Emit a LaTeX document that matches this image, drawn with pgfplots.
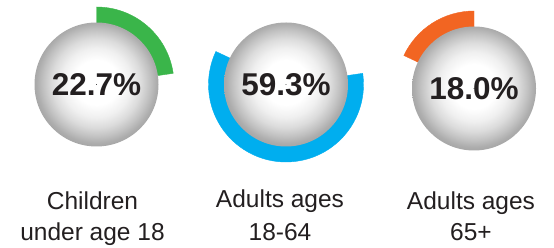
\documentclass[border=0pt]{standalone}
\usepackage{fontspec}
\setmainfont{Liberation Sans}
\usepackage{pgfplots}
\usepackage{pgfplotstable}
\pgfplotsset{compat=1.18}

\definecolor{cgreen}{HTML}{3AB54A}
\definecolor{cblue}{HTML}{00AEEF}
\definecolor{corange}{HTML}{F26522}
\definecolor{ctext}{HTML}{231F20}

\pgfdeclareradialshading{sph}{\pgfpoint{0bp}{1bp}}{%
  color(0bp)=(white);
  color(9bp)=(white);
  color(14bp)=(white!94!black);
  color(18bp)=(white!86!black);
  color(21.5bp)=(white!76!black);
  color(24bp)=(white!68!black);
  color(25bp)=(white!66!black);
  color(50bp)=(white!66!black)}

% x, y: centre of each ring (1 unit = 1pt); start: cumulative share before; pct: share
\pgfplotstableread{
x y start pct
96.5 163.5 0.0 22.7
}\children
\pgfplotstableread{
x y start pct
286 163.5 22.7 59.3
}\adults
\pgfplotstableread{
x y start pct
474 159.5 82.0 18.0
}\seniors

\pgfplotsset{
  donut/.style={
    scatter, only marks, mark=*, mark size=0.01pt,
    mark options={draw=none, fill=none},
    point meta=\thisrow{pct},
    visualization depends on={\thisrow{start} \as \startv},
    visualization depends on={\thisrow{pct} \as \pctv},
    scatter/@pre marker code/.code={%
      \pgfmathsetmacro\aone{90-3.6*\startv}%
      \pgfmathsetmacro\atwo{90-3.6*(\startv+\pctv)}%
      \fill[#1] (\aone:77.5pt) arc[start angle=\aone, end angle=\atwo, radius=77.5pt]
        -- (\atwo:58pt) arc[start angle=\atwo, end angle=\aone, radius=58pt] -- cycle;
      \shade[shading=sph, draw=none] (0,0) circle (62pt);
      \node[font=\fontsize{31.5}{36}\selectfont\bfseries, text=ctext, anchor=center, inner sep=0pt]
        at (0,0) {\pgfmathprintnumber[fixed,fixed zerofill,precision=1,assume math mode=true]{\pctv}\%};
    },
    scatter/@post marker code/.code={},
  },
}

\begin{document}
\begin{tikzpicture}
\useasboundingbox (0,0) rectangle (554pt,248pt);
\begin{axis}[
  at={(0,0)}, anchor=south west,
  scale only axis, width=554pt, height=248pt,
  xmin=0, xmax=554, ymin=0, ymax=248,
  hide axis, clip=false,
]
\addplot[donut=cgreen] table[x=x, y=y] {\children};
\addplot[donut=cblue] table[x=x, y=y] {\adults};
\addplot[donut=corange] table[x=x, y=y] {\seniors};

\begin{scope}[every node/.style={font=\fontsize{24.5}{30}\selectfont, text=ctext, anchor=base, inner sep=0pt}]
\node at (axis cs:92.5,38) {Children};
\node at (axis cs:92.5,7) {under age 18};
\node at (axis cs:280,40) {Adults ages};
\node at (axis cs:280,7.5) {18-64};
\node at (axis cs:471,38) {Adults ages};
\node at (axis cs:471,7) {65+};
\end{scope}
\end{axis}
\end{tikzpicture}
\end{document}
